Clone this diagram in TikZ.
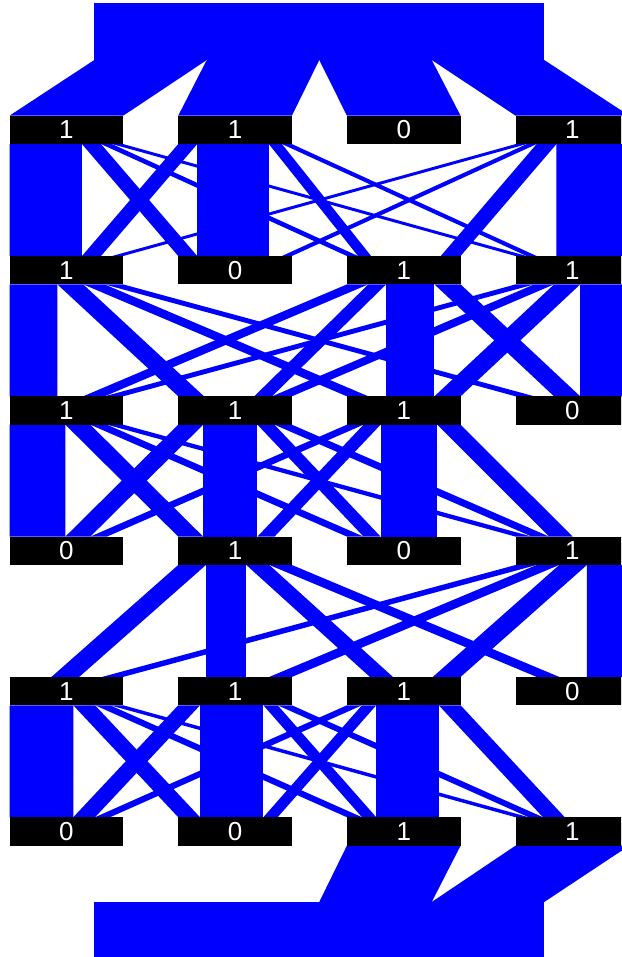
\documentclass[tikz,border=0pt]{standalone}
\usepackage{fontspec}
\setmainfont{Liberation Sans}
\usetikzlibrary{calc,backgrounds}
\definecolor{flowblue}{RGB}{0,0,255}
\tikzset{
  flow/.style={fill=flowblue, draw=none},
  statebox/.style={fill=black, text=white, draw=none, inner sep=0pt, outer sep=0pt,
    minimum width=113.7pt, minimum height=28.4pt, font=\fontsize{26}{26}\selectfont},
  block/.style={fill=flowblue, draw=none, inner sep=0pt, outer sep=0pt,
    minimum width=449.9pt, minimum height=56.7pt, anchor=north west},
}
\newcommand\flowband[6]{\fill[flow]
  ($(#1.south west)!{#2/287}!(#1.south east)$) --
  ($(#1.south west)!{#3/287}!(#1.south east)$) --
  ($(#4.north west)!{#6/287}!(#4.north east)$) --
  ($(#4.north west)!{#5/287}!(#4.north east)$) -- cycle;}
\begin{document}
\begin{tikzpicture}[x=1pt,y=-1pt]
\useasboundingbox (0,0) rectangle (621,957);
\clip (0,0) rectangle (621,957);
% state boxes
\foreach \r/\labs in {0/{1,1,0,1},1/{1,0,1,1},2/{1,1,1,0},3/{0,1,0,1},4/{1,1,1,0},5/{0,0,1,1}}{
  \foreach \l [count=\c from 0] in \labs {
    \node[statebox] (b\r\c) at ({66.35+168.7*\c},{129.9+140.3*\r}) {\l};
  }
}
% source and sink blocks
\node[block] (src) at (94.3,3.3) {};
\node[block] (snk) at (94.3,902) {};
\begin{scope}[on background layer]
% top fans
\foreach \k in {0,1,2,3}{
  \fill[flow] ($(src.south west)!{\k/4}!(src.south east)$) --
    ($(src.south west)!{(\k+1)/4}!(src.south east)$) --
    (b0\k.north east) -- (b0\k.north west) -- cycle;
}
% bottom fans
\fill[flow] (b52.south west) -- (b52.south east) --
  ($(snk.north west)!0.75!(snk.north east)$) -- ($(snk.north west)!0.5!(snk.north east)$) -- cycle;
\fill[flow] (b53.south west) -- (b53.south east) --
  (snk.north east) -- ($(snk.north west)!0.75!(snk.north east)$) -- cycle;
% transition 1
\flowband{b00}{183}{231}{b11}{0}{48}
\flowband{b00}{231}{259}{b12}{0}{28}
\flowband{b00}{259}{287}{b13}{0}{28}
\flowband{b01}{0}{48}{b10}{183}{231}
\flowband{b01}{229}{262}{b12}{28}{61}
\flowband{b01}{262}{287}{b13}{28}{53}
\flowband{b03}{0}{28}{b10}{259}{287}
\flowband{b03}{28}{53}{b11}{262}{287}
\flowband{b03}{53}{103}{b12}{237}{287}
\flowband{b00}{0}{183}{b10}{0}{183}
\flowband{b01}{48}{229}{b11}{48}{229}
\flowband{b03}{103}{287}{b13}{103}{287}
% transition 2
\flowband{b10}{121}{186}{b21}{0}{65}
\flowband{b10}{186}{240}{b22}{0}{54}
\flowband{b10}{240}{287}{b23}{0}{47}
\flowband{b12}{0}{54}{b20}{186}{240}
\flowband{b12}{54}{99}{b21}{192}{237}
\flowband{b12}{221}{287}{b23}{97}{163}
\flowband{b13}{0}{47}{b20}{240}{287}
\flowband{b13}{47}{97}{b21}{237}{287}
\flowband{b13}{97}{163}{b22}{221}{287}
\flowband{b10}{0}{121}{b20}{0}{121}
\flowband{b12}{99}{221}{b22}{99}{221}
\flowband{b13}{163}{287}{b23}{163}{287}
% transition 3
\flowband{b20}{141}{204}{b31}{0}{63}
\flowband{b20}{204}{246}{b32}{0}{42}
\flowband{b20}{246}{287}{b33}{0}{41}
\flowband{b21}{0}{63}{b30}{141}{204}
\flowband{b21}{200}{243}{b32}{42}{85}
\flowband{b21}{243}{287}{b33}{41}{85}
\flowband{b22}{0}{42}{b30}{204}{246}
\flowband{b22}{42}{85}{b31}{200}{243}
\flowband{b22}{228}{287}{b33}{85}{144}
\flowband{b20}{0}{141}{b30}{0}{141}
\flowband{b21}{63}{200}{b31}{63}{200}
\flowband{b22}{85}{228}{b32}{85}{228}
% transition 4
\flowband{b31}{0}{70}{b40}{106}{176}
\flowband{b31}{172}{230}{b42}{58}{116}
\flowband{b31}{230}{287}{b43}{53}{110}
\flowband{b33}{0}{53}{b40}{234}{287}
\flowband{b33}{53}{110}{b41}{230}{287}
\flowband{b33}{110}{180}{b42}{217}{287}
\flowband{b31}{70}{172}{b41}{70}{172}
\flowband{b33}{180}{287}{b43}{180}{287}
% transition 5
\flowband{b40}{161}{216}{b51}{0}{55}
\flowband{b40}{216}{254}{b52}{0}{38}
\flowband{b40}{254}{287}{b53}{0}{33}
\flowband{b41}{0}{55}{b50}{161}{216}
\flowband{b41}{215}{251}{b52}{38}{74}
\flowband{b41}{251}{287}{b53}{33}{69}
\flowband{b42}{0}{38}{b50}{216}{254}
\flowband{b42}{38}{74}{b51}{215}{251}
\flowband{b42}{232}{287}{b53}{69}{124}
\flowband{b40}{0}{161}{b50}{0}{161}
\flowband{b41}{55}{215}{b51}{55}{215}
\flowband{b42}{74}{232}{b52}{74}{232}
\end{scope}
\end{tikzpicture}
\end{document}
